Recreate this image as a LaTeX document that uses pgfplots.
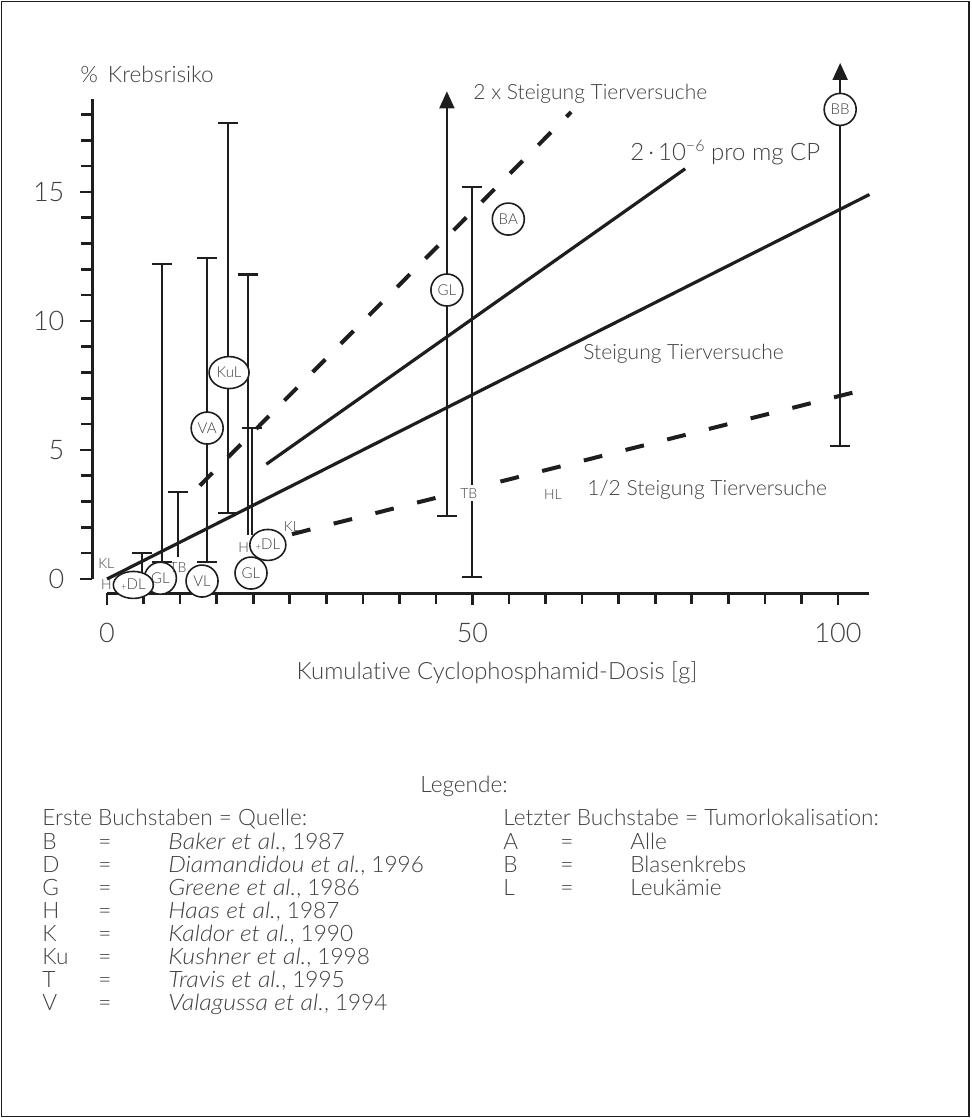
\documentclass[border=0pt]{standalone}
\usepackage{fontspec}
\IfFontExistsTF{Lato Light}{\setmainfont{Lato Light}[Ligatures=NoCommon, ItalicFont={Lato Light Italic}, ItalicFeatures={FakeStretch=1.1}]}{\setmainfont{Lato}[Ligatures=NoCommon]}
\usepackage{pgfplots}
\pgfplotsset{compat=1.18}
\usetikzlibrary{shapes.geometric,arrows.meta}
\definecolor{txt}{HTML}{404040}
\definecolor{ln}{HTML}{1E1E1E}
\pgfplotsset{
  bar/.style={ln, line width=1pt, mark=-, mark size=5pt, mark options={line width=1.2pt, solid}},
  lab/.style={draw=none, nodes near coords={#1}, every node near coord/.append style={anchor=center, inner sep=0pt, font=\fontsize{7}{7}\selectfont, text=txt}},
  circ/.style={draw=none, nodes near coords={#1}, every node near coord/.append style={circle, draw=ln, line width=0.8pt, fill=white, minimum size=16pt, inner sep=0pt, anchor=center, font=\fontsize{7.5}{7.5}\selectfont, text=txt}},
  ell/.style n args={3}{draw=none, nodes near coords={#1}, every node near coord/.append style={ellipse, draw=ln, line width=0.8pt, fill=white, minimum width=#2, minimum height=#3, inner sep=0pt, anchor=center, font=\fontsize{7.5}{7.5}\selectfont, text=txt}},
}
\newcommand\plusDL{\raisebox{-0.6pt}{\fontsize{5}{5}\selectfont+}DL}
\begin{document}
\begin{tikzpicture}
\begin{scope}[x=0.5pt, y=-0.5pt, yshift=559pt]
  \path (0,0) rectangle (971,1118);
  \draw[line width=0.6pt, ln] (1.5,1.5) rectangle (969,1116.5);
\end{scope}
\begin{axis}[
  at={(46.2pt,262.4pt)}, anchor=south west,
  scale only axis, width=387.4pt, height=247.05pt,
  xmin=-2, xmax=104, ymin=-0.55, ymax=18.6,
  axis x line*=bottom, axis y line*=left, axis line style={draw=none},
  clip=false,
  xtick={0,50,100}, minor xtick={5,10,...,45,55,60,...,95},
  ytick={0,5,10,15}, minor ytick={1,2,3,4,6,7,8,9,11,12,13,14,16,17,18},
  tick align=outside, major tick length=6pt, minor tick length=5.5pt,
  every tick/.style={ln, line width=1.3pt},
  tick label style={font=\fontsize{13.5}{13.5}\selectfont, text=txt},
  xticklabel style={yshift=-5.5pt},
  yticklabel style={xshift=-4.5pt},
  /pgf/number format/assume math mode=true,
]
% axis lines
\draw[line width=1.5pt, ln] (axis cs:0,-0.55) -- (axis cs:104.3,-0.55);
\draw[line width=1.5pt, ln] (axis cs:-2,0) -- (axis cs:-2,18.6);
% slope lines
\addplot[ln, line width=1.6pt] coordinates {(0,0) (104.3,14.9)};
\addplot[ln, line width=1.6pt] coordinates {(21.8,4.45) (79.1,15.9)};
\addplot[ln, line width=2pt, dash pattern=on 9pt off 11pt] coordinates {(12.7,3.62) (63.5,18.1)};
\addplot[ln, line width=2pt, dash pattern=on 9.5pt off 12pt] coordinates {(19.6,1.33) (104.5,7.4)};
% range bars
\addplot[bar, mark indices={2}] coordinates {(4.8,0.2) (4.8,1.0)};
\addplot[bar] coordinates {(7.5,0.66) (7.5,12.2)};
\addplot[bar, mark indices={2}] coordinates {(9.7,0.85) (9.7,3.37)};
\addplot[bar] coordinates {(13.7,0.66) (13.7,12.45)};
\addplot[bar] coordinates {(16.6,2.56) (16.6,17.67)};
\addplot[bar, mark indices={2}] coordinates {(19.3,1.7) (19.3,11.8)};
\addplot[bar, mark indices={2}] coordinates {(19.8,1.7) (19.8,5.85)};
\addplot[bar, mark indices={1}, -{Triangle[length=8.5pt,width=7.5pt]}] coordinates {(46.5,2.44) (46.5,18.9)};
\addplot[bar] coordinates {(49.9,0.08) (49.9,15.2)};
\addplot[bar, mark indices={1}, -{Triangle[length=8.5pt,width=7.5pt]}] coordinates {(100.3,5.15) (100.3,20.0)};
% study markers
\addplot[circ=GL] coordinates {(7.3,0.03) (19.7,0.23) (46.5,11.2)};
\addplot[circ=VL] coordinates {(13.0,-0.08)};
\addplot[circ=VA] coordinates {(13.7,5.85)};
\addplot[circ=BA] coordinates {(54.9,13.95)};
\addplot[circ=BB] coordinates {(100.3,18.2)};
\addplot[ell={KuL}{20pt}{16pt}] coordinates {(16.7,8.0)};
\addplot[ell={\plusDL}{20pt}{13.5pt}] coordinates {(3.6,-0.23)};
\addplot[ell={\plusDL}{18pt}{15.5pt}] coordinates {(22.0,1.32)};
\addplot[lab=KL] coordinates {(-0.1,0.58) (25.3,2.05)};
\addplot[lab=H] coordinates {(-0.1,-0.2) (18.7,1.2)};
\addplot[lab=TB] coordinates {(9.7,0.43)};
\addplot[lab=TB, every node near coord/.append style={fill=white, inner sep=1.5pt}] coordinates {(49.5,3.33)};
\addplot[lab=HL] coordinates {(61.0,3.26)};
\end{axis}
\begin{scope}[x=0.5pt, y=-0.5pt, yshift=559pt, every node/.style={text=txt, inner sep=0pt, font=\fontsize{11.3}{13}\selectfont}]
  \node[anchor=base west] at (80,83) {\% \,Krebsrisiko};
  \node[anchor=center, font=\fontsize{11.9}{13}\selectfont] at (497,673) {Kumulative Cyclophosphamid-Dosis [g]};
  \begin{scope}[every node/.style={text=txt, inner sep=0pt, font=\fontsize{10.5}{12}\selectfont}]
  \node[anchor=base west] at (473,100) {2 x Steigung Tierversuche};
  \node[anchor=base west, font=\fontsize{12}{13}\selectfont] at (630,161) {2\,·\,10\raisebox{0.8ex}{\fontsize{8}{8}\selectfont −6} pro mg CP};
  \node[anchor=base west] at (583,360) {Steigung Tierversuche};
  \node[anchor=base west] at (587,496) {1/2 Steigung Tierversuche};
  \end{scope}
  % legend
  \node[anchor=base west] at (420,793) {Legende:};
  \node[anchor=base west] at (42,826) {Erste Buchstaben = Quelle:};
  \node[anchor=base west] at (503,826) {Letzter Buchstabe = Tumorlokalisation:};
  \foreach \l/\t [count=\i from 0] in {B/{\textit{Baker et al.}, 1987}, D/{\textit{Diamandidou et al.}, 1996}, G/{\textit{Greene et al.}, 1986}, H/{\textit{Haas et al.}, 1987}, K/{\textit{Kaldor et al.}, 1990}, Ku/{\textit{Kushner et al.}, 1998}, T/{\textit{Travis et al.}, 1995}, V/{\textit{Valagussa et al.}, 1994}} {
    \node[anchor=base west] at (42,850+23*\i) {\l};
    \node[anchor=base west] at (98,850+23*\i) {=};
    \node[anchor=base west] at (168,850+23*\i) {\t};
  }
  \foreach \l/\t [count=\i from 0] in {A/Alle, B/Blasenkrebs, L/Leukämie} {
    \node[anchor=base west] at (503,850+23*\i) {\l};
    \node[anchor=base west] at (560,850+23*\i) {=};
    \node[anchor=base west] at (630,850+23*\i) {\t};
  }
\end{scope}
\end{tikzpicture}
\end{document}
